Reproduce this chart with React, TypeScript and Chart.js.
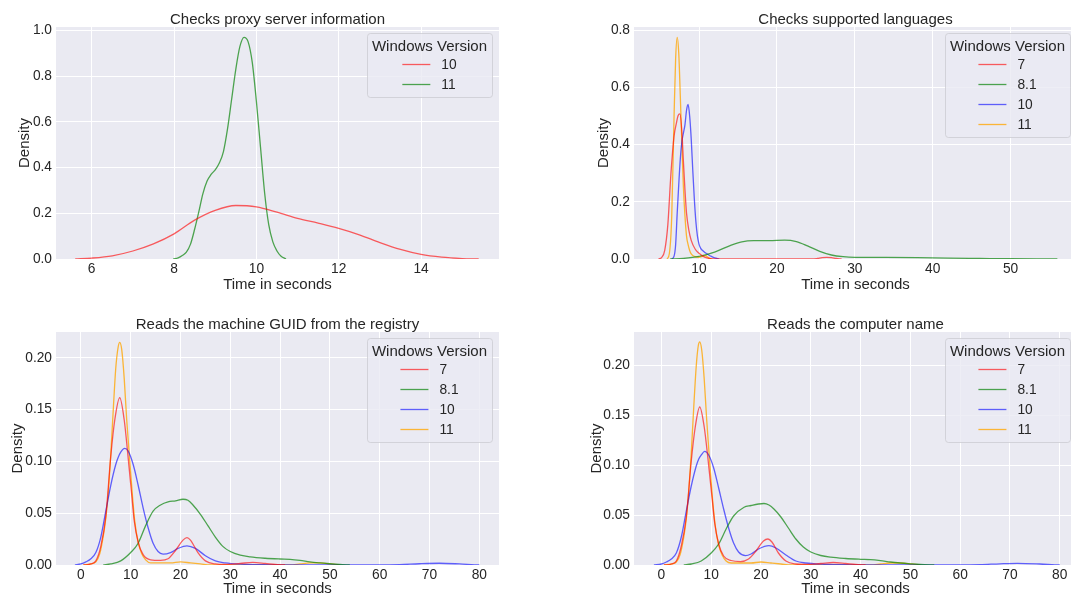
import React, { useEffect, useRef } from "react";
import { Chart, registerables } from "chart.js";

Chart.register(...registerables);

const FONT = '"Liberation Sans", Arial, sans-serif';
const TEXT = "#262626";
const BG = "#EAEAF2";
const LEGEND_TITLE = "Windows Version";
const X_LABEL = "Time in seconds";
const Y_LABEL = "Density";
const PALETTE = ["rgba(255,0,0,0.62)", "rgba(0,128,0,0.68)", "rgba(0,0,255,0.6)", "rgba(255,165,0,0.78)"];

// ---------- Panel 1: Checks proxy server information ----------
const proxyTitle = "Checks proxy server information";
const proxyVersions = ["10", "11"];
const proxyXTicks = ["6", "8", "10", "12", "14"];
const proxyYTicks = ["0.0", "0.2", "0.4", "0.6", "0.8", "1.0"];
const proxyX10 = [5.6, 6.0, 6.5, 7.0, 7.5, 8.0, 8.5, 9.0, 9.5, 10.0, 10.5, 11.0, 11.5, 12.0, 12.5, 13.0, 13.5, 14.0, 14.5, 15.0, 15.4];
const proxyY10 = [0.0, 0.004, 0.014, 0.035, 0.066, 0.11, 0.17, 0.213, 0.234, 0.228, 0.205, 0.178, 0.157, 0.134, 0.106, 0.072, 0.042, 0.02, 0.008, 0.002, 0.0];
const proxyX11 = [7.98, 8.1, 8.2, 8.3, 8.4, 8.5, 8.6, 8.7, 8.8, 8.9, 9.0, 9.1, 9.2, 9.3, 9.4, 9.5, 9.6, 9.7, 9.8, 9.9, 10.0, 10.1, 10.2, 10.3, 10.4, 10.5, 10.6, 10.72];
const proxyY11 = [0.0, 0.005, 0.015, 0.03, 0.065, 0.13, 0.205, 0.285, 0.34, 0.37, 0.39, 0.42, 0.47, 0.57, 0.7, 0.83, 0.93, 0.97, 0.95, 0.86, 0.69, 0.49, 0.29, 0.15, 0.075, 0.035, 0.012, 0.0];

// ---------- Panel 2: Checks supported languages ----------
const langTitle = "Checks supported languages";
const langVersions = ["7", "8.1", "10", "11"];
const langXTicks = ["10", "20", "30", "40", "50"];
const langYTicks = ["0.0", "0.2", "0.4", "0.6", "0.8"];
const langX7 = [4.8, 5.2, 5.6, 6.0, 6.4, 6.8, 7.1, 7.3, 7.55, 7.8, 8.0, 8.2, 8.4, 8.7, 9.0, 9.5, 10.0, 10.5, 11.0, 11.5, 12.5, 24.5, 25.2, 25.8, 26.4, 27.0, 27.6, 28.3];
const langY7 = [0.0, 0.005, 0.03, 0.12, 0.3, 0.43, 0.475, 0.5, 0.507, 0.445, 0.34, 0.24, 0.16, 0.1, 0.065, 0.035, 0.02, 0.01, 0.004, 0.001, 0.0, 0.0, 0.002, 0.005, 0.006, 0.005, 0.002, 0.0];
const langX81 = [6.3, 8, 10, 12, 14, 15.5, 17, 19, 21, 22.5, 24, 25.5, 27, 28.5, 30, 34, 38, 42, 46, 50, 54, 56];
const langY81 = [0.0, 0.002, 0.009, 0.024, 0.047, 0.06, 0.064, 0.064, 0.066, 0.061, 0.045, 0.027, 0.014, 0.008, 0.006, 0.006, 0.005, 0.003, 0.002, 0.001, 0.0003, 0.0];
const langX10 = [6.5, 6.8, 7.0, 7.2, 7.4, 7.6, 7.8, 8.0, 8.2, 8.4, 8.6, 8.8, 9.0, 9.2, 9.4, 9.6, 9.8, 10.0, 10.2, 10.5, 10.8, 11.2, 11.6, 12.0, 12.6];
const langY10 = [0.0, 0.01, 0.05, 0.16, 0.26, 0.35, 0.41, 0.44, 0.47, 0.52, 0.54, 0.5, 0.42, 0.31, 0.21, 0.13, 0.08, 0.052, 0.038, 0.029, 0.022, 0.015, 0.009, 0.004, 0.0];
const langX11 = [5.9, 6.2, 6.5, 6.8, 7.0, 7.2, 7.4, 7.6, 7.8, 8.0, 8.2, 8.4, 8.6, 8.8, 9.0, 9.5, 10.0, 10.5, 10.8, 11.2, 11.6];
const langY11 = [0.0, 0.02, 0.15, 0.5, 0.7, 0.775, 0.72, 0.57, 0.4, 0.25, 0.15, 0.08, 0.05, 0.03, 0.018, 0.008, 0.006, 0.01, 0.012, 0.005, 0.0];

// ---------- Panel 3: Reads the machine GUID from the registry ----------
const guidTitle = "Reads the machine GUID from the registry";
const guidVersions = ["7", "8.1", "10", "11"];
const guidXTicks = ["0", "10", "20", "30", "40", "50", "60", "70", "80"];
const guidYTicks = ["0.00", "0.05", "0.10", "0.15", "0.20"];
const guidX7 = [0.5, 2, 3, 4, 5, 6, 6.8, 7.8, 8.7, 9.4, 10.2, 10.7, 11.5, 12.5, 14, 16, 17.5, 19, 20.5, 21.3, 22, 23.5, 25, 27, 29, 32, 34.5, 37, 39, 41];
const guidY7 = [0.0, 0.001, 0.004, 0.018, 0.047, 0.105, 0.14, 0.1615, 0.14, 0.108, 0.068, 0.043, 0.022, 0.01, 0.005, 0.0045, 0.006, 0.014, 0.024, 0.0265, 0.024, 0.012, 0.004, 0.001, 0.0005, 0.0015, 0.0025, 0.0015, 0.0005, 0.0];
const guidX81 = [4.5, 6, 8, 10, 11.5, 13, 14.5, 16, 17.5, 19, 20.5, 21.5, 22.5, 24, 25.5, 27, 28.5, 30, 32, 34, 37, 40, 42, 44, 46, 48, 50, 52, 54];
const guidY81 = [0.0, 0.001, 0.004, 0.012, 0.021, 0.038, 0.052, 0.058, 0.061, 0.062, 0.0635, 0.0625, 0.058, 0.049, 0.038, 0.027, 0.018, 0.013, 0.0095, 0.0078, 0.0065, 0.0058, 0.0055, 0.0045, 0.003, 0.002, 0.0012, 0.0005, 0.0];
const guidX10 = [-1.2, 0, 1, 2, 3, 4, 5, 6, 7, 7.5, 8, 8.8, 9.5, 10.5, 11.5, 12.5, 13.5, 14.5, 15.5, 16.5, 18, 19.5, 21.3, 23, 25, 27, 29, 32, 36, 40, 60, 64, 68, 72, 76, 79, 80];
const guidY10 = [0.0, 0.001, 0.003, 0.006, 0.012, 0.027, 0.052, 0.077, 0.097, 0.104, 0.109, 0.1126, 0.11, 0.097, 0.077, 0.055, 0.036, 0.021, 0.013, 0.0105, 0.012, 0.016, 0.0185, 0.016, 0.009, 0.004, 0.002, 0.0008, 0.0003, 0.0, 0.0, 0.0003, 0.0012, 0.0017, 0.001, 0.0002, 0.0];
const guidX11 = [0.5, 2, 3, 3.8, 4.5, 5.0, 5.5, 6.0, 6.5, 7.0, 7.5, 7.8, 8.2, 8.7, 9.2, 9.7, 10.3, 10.8, 11.5, 12.2, 13, 14, 16, 18, 20, 22, 24, 26, 42, 44, 46, 48, 50, 52];
const guidY11 = [0.0, 0.001, 0.003, 0.011, 0.028, 0.045, 0.07, 0.107, 0.15, 0.19, 0.211, 0.215, 0.208, 0.18, 0.14, 0.108, 0.07, 0.043, 0.022, 0.011, 0.005, 0.002, 0.002, 0.002, 0.003, 0.002, 0.001, 0.0, 0.0, 0.001, 0.002, 0.002, 0.001, 0.0];

// ---------- Panel 4: Reads the computer name ----------
const compTitle = "Reads the computer name";
const compVersions = ["7", "8.1", "10", "11"];
const compXTicks = ["0", "10", "20", "30", "40", "50", "60", "70", "80"];
const compYTicks = ["0.00", "0.05", "0.10", "0.15", "0.20"];
const compX7 = [0.5, 2, 3, 4, 5, 6, 6.8, 7.7, 8.6, 9.4, 10.2, 10.7, 11.5, 12.5, 14, 15.9, 17.5, 19, 20.5, 21.4, 22.2, 23.5, 25, 27, 29, 32, 34.5, 37, 39, 41];
const compY7 = [0.0, 0.001, 0.004, 0.019, 0.048, 0.104, 0.138, 0.158, 0.138, 0.104, 0.066, 0.042, 0.021, 0.009, 0.0045, 0.0034, 0.006, 0.014, 0.024, 0.026, 0.023, 0.012, 0.004, 0.001, 0.0005, 0.0015, 0.0025, 0.0015, 0.0005, 0.0];
const compX81 = [4.5, 6, 8, 10, 11.5, 13, 14.5, 16.6, 18, 19.5, 20.6, 21.6, 22.6, 24, 25.5, 27, 28.5, 30, 32, 34, 37, 40, 42, 44, 46, 48, 50, 52, 54.8];
const compY81 = [0.0, 0.001, 0.004, 0.012, 0.021, 0.036, 0.049, 0.0578, 0.0595, 0.061, 0.0615, 0.06, 0.056, 0.048, 0.037, 0.026, 0.018, 0.013, 0.0095, 0.0078, 0.0065, 0.0057, 0.0053, 0.0043, 0.003, 0.002, 0.0012, 0.0005, 0.0];
const compX10 = [-1.5, 0, 1, 2, 3, 4, 5, 6, 7, 7.5, 8, 8.7, 9.5, 10.5, 11.5, 12.5, 13.5, 14.5, 15.5, 16.9, 18, 19.5, 21.6, 23, 25, 27, 29, 32, 36, 40, 60, 64, 68, 71.5, 76, 79, 80];
const compY10 = [0.0, 0.001, 0.003, 0.006, 0.012, 0.028, 0.054, 0.079, 0.099, 0.106, 0.11, 0.1136, 0.11, 0.097, 0.077, 0.056, 0.037, 0.022, 0.013, 0.0094, 0.011, 0.016, 0.0194, 0.017, 0.01, 0.004, 0.002, 0.0008, 0.0003, 0.0, 0.0, 0.0003, 0.0012, 0.0017, 0.001, 0.0002, 0.0];
const compX11 = [0.5, 2, 3, 3.8, 4.5, 5.0, 5.5, 6.0, 6.5, 7.0, 7.4, 7.7, 8.1, 8.6, 9.1, 9.6, 10.2, 10.8, 11.5, 12.2, 13, 14, 16, 18, 20, 22, 24, 26, 42, 44, 46, 48, 50, 52];
const compY11 = [0.0, 0.001, 0.003, 0.011, 0.028, 0.046, 0.074, 0.112, 0.158, 0.199, 0.219, 0.223, 0.215, 0.186, 0.145, 0.11, 0.07, 0.04, 0.02, 0.01, 0.004, 0.002, 0.002, 0.002, 0.003, 0.002, 0.001, 0.0, 0.0, 0.001, 0.002, 0.002, 0.001, 0.0];

type Series = { label: string; xs: number[]; ys: number[] };
type Panel = {
  title: string;
  series: Series[];
  xTicks: string[];
  yTicks: string[];
  xMin: number;
  xMax: number;
  yMax: number;
  left: number;
  top: number;
  w: number;
  h: number;
  pad: { left: number; top: number; right: number; bottom: number };
  yW: number;
  xH: number;
  yTitlePad: number;
  xTitlePad: number;
  xTickPad: number;
};

const mk = (labels: string[], xs: number[][], ys: number[][]): Series[] =>
  labels.map((label, i) => ({ label, xs: xs[i], ys: ys[i] }));

const PANELS: Panel[] = [
  {
    title: proxyTitle,
    series: mk(proxyVersions, [proxyX10, proxyX11], [proxyY10, proxyY11]),
    xTicks: proxyXTicks, yTicks: proxyYTicks,
    xMin: 5.133, xMax: 15.893, yMax: 1.015,
    left: 0, top: 0, w: 540, h: 300,
    pad: { left: 0, top: 27, right: 41, bottom: 0 },
    yW: 56, xH: 41, yTitlePad: 16, xTitlePad: 6, xTickPad: 1.5,
  },
  {
    title: langTitle,
    series: mk(langVersions, [langX7, langX81, langX10, langX11], [langY7, langY81, langY10, langY11]),
    xTicks: langXTicks, yTicks: langYTicks,
    xMin: 1.656, xMax: 58.52, yMax: 0.811,
    left: 560, top: 0, w: 540, h: 300,
    pad: { left: 0, top: 27, right: 23, bottom: 0 },
    yW: 74, xH: 41, yTitlePad: 35, xTitlePad: 6, xTickPad: 1.5,
  },
  {
    title: guidTitle,
    series: mk(guidVersions, [guidX7, guidX81, guidX10, guidX11], [guidY7, guidY81, guidY10, guidY11]),
    xTicks: guidXTicks, yTicks: guidYTicks,
    xMin: -5.0, xMax: 83.96, yMax: 0.225,
    left: 0, top: 300, w: 540, h: 298,
    pad: { left: 0, top: 32, right: 41, bottom: 0 },
    yW: 56, xH: 33, yTitlePad: 9, xTitlePad: 0, xTickPad: 1.5,
  },
  {
    title: compTitle,
    series: mk(compVersions, [compX7, compX81, compX10, compX11], [compY7, compY81, compY10, compY11]),
    xTicks: compXTicks, yTicks: compYTicks,
    xMin: -5.5, xMax: 83.46, yMax: 0.233,
    left: 560, top: 300, w: 540, h: 298,
    pad: { left: 0, top: 32, right: 23, bottom: 0 },
    yW: 74, xH: 33, yTitlePad: 28, xTitlePad: 0, xTickPad: 1.5,
  },
];

function makeDecor(title: string) {
  return {
    id: "decor",
    beforeDraw(chart: any) {
      const { ctx, chartArea: a } = chart;
      ctx.save();
      ctx.fillStyle = BG;
      ctx.fillRect(a.left, a.top, a.right - a.left, a.bottom - a.top);
      ctx.restore();
    },
    afterDraw(chart: any) {
      const { ctx, chartArea: a } = chart;
      const ds = chart.data.datasets;
      ctx.save();
      // title
      ctx.fillStyle = TEXT;
      ctx.font = `15px ${FONT}`;
      ctx.textAlign = "center";
      ctx.textBaseline = "alphabetic";
      ctx.fillText(title, (a.left + a.right) / 2, a.top - 3.5);
      // legend
      const tW = ctx.measureText(LEGEND_TITLE).width;
      ctx.font = `13.75px ${FONT}`;
      const lW = Math.max(...ds.map((d: any) => ctx.measureText(d.label).width));
      const handle = 28;
      const gap = 11;
      const boxW = Math.max(tW, handle + gap + lW) + 10;
      const right = a.right - 7;
      const left = right - boxW;
      const top = a.top + 6;
      const bottom = a.top + 37.3 + 20 * (ds.length - 1) + 12.5;
      ctx.beginPath();
      (ctx as any).roundRect(Math.round(left) + 0.5, Math.round(top) + 0.5, Math.round(boxW), Math.round(bottom - top), 3);
      ctx.fillStyle = "rgba(234,234,242,0.8)";
      ctx.fill();
      ctx.strokeStyle = "rgba(204,204,210,0.8)";
      ctx.lineWidth = 1;
      ctx.stroke();
      const cx = (left + right) / 2;
      ctx.fillStyle = TEXT;
      ctx.textBaseline = "middle";
      ctx.textAlign = "center";
      ctx.font = `15px ${FONT}`;
      ctx.fillText(LEGEND_TITLE, cx, a.top + 19.5);
      const blockW = handle + gap + lW;
      const x0 = cx - blockW / 2;
      ds.forEach((d: any, i: number) => {
        const y = Math.round(a.top + 37.3 + 20 * i) + 0.5;
        ctx.strokeStyle = d.borderColor;
        ctx.lineWidth = 1.3;
        ctx.beginPath();
        ctx.moveTo(x0, y);
        ctx.lineTo(x0 + handle, y);
        ctx.stroke();
        ctx.fillStyle = TEXT;
        ctx.textAlign = "left";
        ctx.font = `13.75px ${FONT}`;
        ctx.fillText(d.label, x0 + handle + gap, y + 1);
      });
      ctx.restore();
    },
  };
}

function PanelChart({ p }: { p: Panel }) {
  const ref = useRef<HTMLCanvasElement>(null);
  useEffect(() => {
    if (!ref.current) return;
    const tickFont = { family: FONT, size: 13.75 };
    const labelFont = { family: FONT, size: 15 };
    const chart = new Chart(ref.current, {
      type: "line",
      data: {
        datasets: p.series.map((s, i) => ({
          label: s.label,
          data: s.xs.map((x, j) => ({ x, y: s.ys[j] })),
          borderColor: PALETTE[i],
          borderWidth: 1.3,
          pointRadius: 0,
          fill: false,
          cubicInterpolationMode: "monotone" as const,
        })),
      },
      options: {
        responsive: false,
        animation: false,
        devicePixelRatio: 1,
        events: [],
        layout: { padding: p.pad },
        plugins: {
          legend: { display: false },
          tooltip: { enabled: false },
          title: { display: false },
        },
        scales: {
          x: {
            type: "linear",
            position: "bottom",
            min: p.xMin,
            max: p.xMax,
            afterBuildTicks: (s: any) => {
              s.ticks = p.xTicks.map((t) => ({ value: parseFloat(t) }));
            },
            afterFit: (s: any) => {
              s.height = p.xH;
              s.paddingLeft = 0;
              s.paddingRight = 0;
              s.paddingTop = 0;
              s.paddingBottom = 0;
            },
            grid: { color: "#ffffff", lineWidth: 1, drawTicks: false },
            border: { display: false },
            ticks: {
              autoSkip: false,
              maxRotation: 0,
              padding: p.xTickPad,
              color: TEXT,
              font: tickFont,
              callback: (_v: any, i: number) => p.xTicks[i],
            },
            title: {
              display: true,
              text: X_LABEL,
              color: TEXT,
              font: labelFont,
              padding: { top: 0, bottom: p.xTitlePad },
            },
          },
          y: {
            type: "linear",
            position: "left",
            min: 0,
            max: p.yMax,
            afterBuildTicks: (s: any) => {
              s.ticks = p.yTicks.map((t) => ({ value: parseFloat(t) }));
            },
            afterFit: (s: any) => {
              s.width = p.yW;
              s.paddingLeft = 0;
              s.paddingRight = 0;
              s.paddingTop = 0;
              s.paddingBottom = 0;
            },
            grid: { color: "#ffffff", lineWidth: 1, drawTicks: false },
            border: { display: false },
            ticks: {
              autoSkip: false,
              padding: 4,
              color: TEXT,
              font: tickFont,
              callback: (_v: any, i: number) => p.yTicks[i],
            },
            title: {
              display: true,
              text: Y_LABEL,
              color: TEXT,
              font: labelFont,
              padding: { top: p.yTitlePad, bottom: 0 },
            },
          },
        },
      } as any,
      plugins: [makeDecor(p.title)],
    });
    return () => chart.destroy();
  }, [p]);
  return (
    <canvas
      ref={ref}
      width={p.w}
      height={p.h}
      style={{ position: "absolute", left: p.left, top: p.top, width: p.w, height: p.h, display: "block" }}
    />
  );
}

export default function App() {
  return (
    <div
      style={{
        position: "fixed",
        left: 0,
        top: 0,
        width: 1071,
        height: 598,
        overflow: "hidden",
        background: "#ffffff",
      }}
    >
      {PANELS.map((p, i) => (
        <PanelChart key={i} p={p} />
      ))}
    </div>
  );
}
